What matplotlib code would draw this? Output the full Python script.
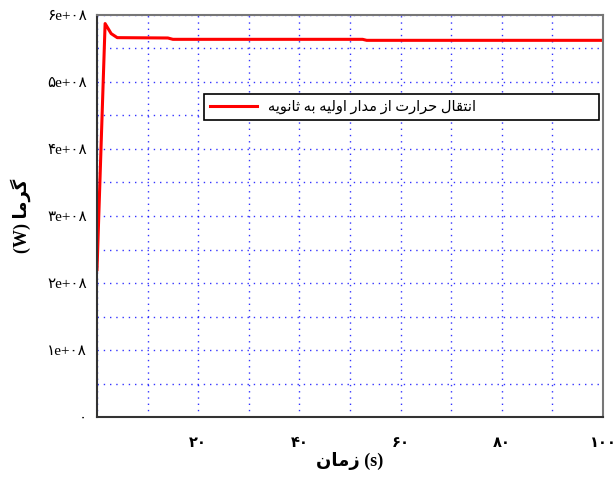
import numpy as np
import matplotlib
matplotlib.use('Agg')
import matplotlib.pyplot as plt
from matplotlib.ticker import FixedLocator, MultipleLocator

plt.rcParams['font.family'] = ['Liberation Serif', 'DejaVu Sans']

# data
time_s = [0, 1.6, 2.8, 4.0, 14.0, 15.0, 52.5, 53.3, 100]
heat_w = [2.2e8, 5.87e8, 5.72e8, 5.66e8, 5.655e8, 5.635e8, 5.635e8, 5.62e8, 5.62e8]

x_ticks = [20, 40, 60, 80, 100]
x_tick_labels = ['۲۰', '۴۰', '۶۰', '۸۰', '۱۰۰']
y_ticks = [0, 1e8, 2e8, 3e8, 4e8, 5e8, 6e8]
y_tick_labels = ['۰', '۱e+۰۸', '۲e+۰۸', '۳e+۰۸', '۴e+۰۸', '۵e+۰۸', '۶e+۰۸']

legend_text = 'انتقال حرارت از مدار اولیه به ثانویه'
x_word = 'زمان'
y_word = 'گرما'

# presentation forms: isolated, final, initial, medial
FORMS = {
    'ا': ('\uFE8D', '\uFE8E'),
    'ب': ('\uFE8F', '\uFE90', '\uFE91', '\uFE92'),
    'ت': ('\uFE95', '\uFE96', '\uFE97', '\uFE98'),
    'ث': ('\uFE99', '\uFE9A', '\uFE9B', '\uFE9C'),
    'ح': ('\uFEA1', '\uFEA2', '\uFEA3', '\uFEA4'),
    'د': ('\uFEA9', '\uFEAA'),
    'ر': ('\uFEAD', '\uFEAE'),
    'ز': ('\uFEAF', '\uFEB0'),
    'ق': ('\uFED5', '\uFED6', '\uFED7', '\uFED8'),
    'ل': ('\uFEDD', '\uFEDE', '\uFEDF', '\uFEE0'),
    'م': ('\uFEE1', '\uFEE2', '\uFEE3', '\uFEE4'),
    'ن': ('\uFEE5', '\uFEE6', '\uFEE7', '\uFEE8'),
    'ه': ('\uFEE9', '\uFEEA', '\uFEEB', '\uFEEC'),
    'و': ('\uFEED', '\uFEEE'),
    'ی': ('\uFBFC', '\uFBFD', '\uFBFE', '\uFBFF'),
    'گ': ('\uFB92', '\uFB93', '\uFB94', '\uFB95'),
}


def shape(text):
    out = []
    for i, ch in enumerate(text):
        if ch not in FORMS:
            out.append(ch)
            continue
        prev = text[i - 1] if i > 0 else ''
        nxt = text[i + 1] if i < len(text) - 1 else ''
        join_prev = prev in FORMS and len(FORMS[prev]) == 4
        join_next = nxt in FORMS and len(FORMS[ch]) == 4
        f = FORMS[ch]
        if join_prev and join_next:
            out.append(f[3])
        elif join_prev:
            out.append(f[1])
        elif join_next:
            out.append(f[2])
        else:
            out.append(f[0])
    return ''.join(out)[::-1]


fig = plt.figure(figsize=(6.14, 4.79), dpi=100)
ax = fig.add_axes([0.158, 0.129, 0.824, 0.840])

ax.plot(time_s, heat_w, color='red', linewidth=2.2, label=shape(legend_text))

ax.set_xlim(0, 100)
ax.set_ylim(0, 6e8)
ax.xaxis.set_major_locator(FixedLocator(x_ticks))
ax.set_xticklabels(x_tick_labels, fontweight='bold', fontsize=10.5)
ax.yaxis.set_major_locator(FixedLocator(y_ticks))
ax.set_yticklabels(y_tick_labels, fontsize=11)
ax.xaxis.set_minor_locator(MultipleLocator(10))
ax.yaxis.set_minor_locator(MultipleLocator(0.5e8))
ax.tick_params(which='both', length=0)
ax.tick_params(axis='x', pad=14)
ax.tick_params(axis='y', pad=7)
ax.grid(which='both', color='blue', linestyle=(0, (1, 3.5)), linewidth=1, alpha=0.8)

for side in ['top', 'right']:
    ax.spines[side].set_color('#777777')
for side in ['left', 'bottom']:
    ax.spines[side].set_color('#333333')
for sp in ax.spines.values():
    sp.set_linewidth(1.5)

ax.set_xlabel(shape(x_word) + ' (s)', fontweight='bold', fontsize=13, labelpad=2)
ax.set_ylabel('(W) ' + shape(y_word), fontweight='bold', fontsize=13, labelpad=12)

leg = ax.legend(loc='upper left', bbox_to_anchor=(0.2115, 0.736, 0.781, 0.067),
                mode='expand', fancybox=False, edgecolor='black', framealpha=1,
                fontsize=10.5, handlelength=3.2, borderaxespad=0)
leg.get_frame().set_linewidth(1.2)

fig.savefig('out.png', dpi=100)
